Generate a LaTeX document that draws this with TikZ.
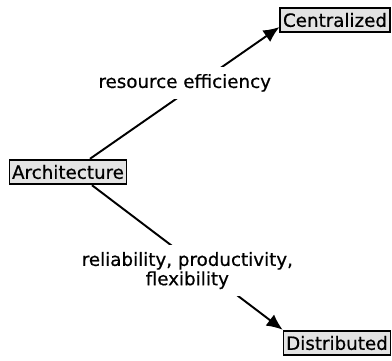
\documentclass[tikz,border=0pt]{standalone}
\usepackage{fontspec}
\setmainfont{DejaVu Sans}[FakeBold=0.6]
\usetikzlibrary{arrows.meta}

\begin{document}
\begin{tikzpicture}[
    x=0.02cm, y=-0.02cm,
    >={Latex[length=0.32cm, width=0.28cm]},
    line width=1.1pt,
    box/.style={
        draw,
        rectangle,
        line width=1pt,
        fill=gray!22,
        inner xsep=1.5pt,
        inner ysep=3pt,
        font=\fontsize{10.4}{12}\selectfont
    },
    why/.style={
        fill=white,
        align=center,
        inner sep=4pt,
        font=\fontsize{10.4}{11}\selectfont
    }
]
    \useasboundingbox (0,0) rectangle (392,360);

    % Nodes
    \node[box] (arch) at (68,172) {Architecture};
    \node[box] (central) at (335,20) {Centralized};
    \node[box] (distr) at (337,343) {Distributed};

    % Arrows
    \draw[->] ([xshift=0.44cm]arch.north) -- ([yshift=-0.14cm]central.west)
        node[why, pos=0.5, yshift=0.2cm] (eff) {resource efficiency};
    \draw[->] ([xshift=0.48cm]arch.south) -- (distr.north west)
        node[why, pos=0.5, yshift=-0.26cm] (rel) {reliability, productivity,\\flexibility};

\end{tikzpicture}
\end{document}
